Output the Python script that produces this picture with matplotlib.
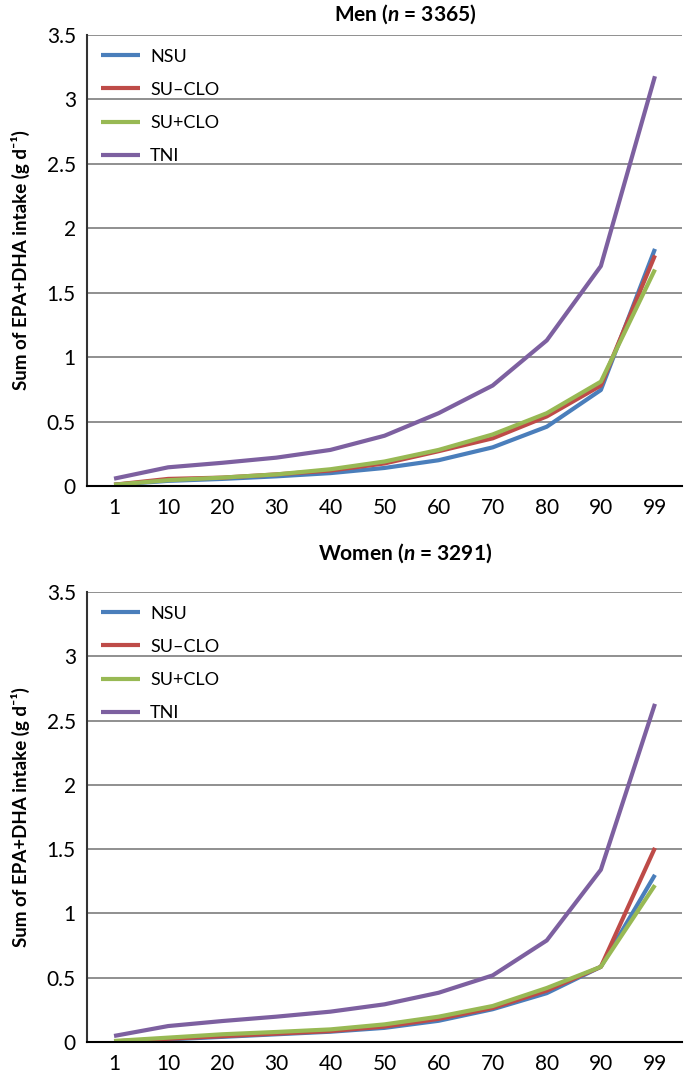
import numpy as np
import matplotlib
matplotlib.use("Agg")
from matplotlib import pyplot as plt

plt.rcParams["font.family"] = ["Lato", "DejaVu Sans"]
plt.rcParams["mathtext.fontset"] = "custom"
plt.rcParams["mathtext.it"] = "Lato:style=italic:weight=bold"
plt.rcParams["mathtext.rm"] = "Lato:weight=bold"

# Data
percentiles = ["1", "10", "20", "30", "40", "50", "60", "70", "80", "90", "99"]
series = ["NSU", "SU\u2013CLO", "SU+CLO", "TNI"]
colors = ["#4A7EBB", "#BE4B48", "#98B954", "#7D60A0"]

men_nsu = [0.01, 0.04, 0.055, 0.075, 0.10, 0.14, 0.20, 0.30, 0.46, 0.745, 1.84]
men_su_clo = [0.01, 0.055, 0.065, 0.09, 0.12, 0.175, 0.27, 0.37, 0.54, 0.78, 1.79]
men_su_p_clo = [0.01, 0.045, 0.065, 0.09, 0.13, 0.19, 0.28, 0.40, 0.565, 0.81, 1.68]
men_tni = [0.057, 0.145, 0.18, 0.22, 0.28, 0.39, 0.565, 0.78, 1.13, 1.707, 3.18]

women_nsu = [0.005, 0.02, 0.04, 0.06, 0.08, 0.11, 0.165, 0.255, 0.38, 0.585, 1.30]
women_su_clo = [0.005, 0.025, 0.045, 0.065, 0.085, 0.12, 0.18, 0.265, 0.40, 0.585, 1.51]
women_su_p_clo = [0.008, 0.034, 0.06, 0.078, 0.098, 0.137, 0.197, 0.28, 0.42, 0.585, 1.22]
women_tni = [0.047, 0.124, 0.163, 0.197, 0.236, 0.293, 0.383, 0.518, 0.79, 1.34, 2.63]

yticks = [0, 0.5, 1, 1.5, 2, 2.5, 3, 3.5]
ytick_labels = ["0", "0.5", "1", "1.5", "2", "2.5", "3", "3.5"]

panels = [
    (r"Men ($n$ = 3365)", [men_nsu, men_su_clo, men_su_p_clo, men_tni]),
    (r"Women ($n$ = 3291)", [women_nsu, women_su_clo, women_su_p_clo, women_tni]),
]

W, H = 686, 1076
fig = plt.figure(figsize=(W / 100, H / 100), dpi=100)

# pixel boxes: left, top, right, bottom
boxes = [(87, 35, 682, 486), (87, 592, 682, 1042)]
title_y = [14, 553]

x = np.arange(len(percentiles))
for (title, data), (l, t, r, b), ty in zip(panels, boxes, title_y):
    ax = fig.add_axes([l / W, 1 - b / H, (r - l) / W, (b - t) / H])
    for vals, name, c in zip(data, series, colors):
        ax.plot(x, vals, color=c, lw=3.0, label=name, solid_capstyle="butt")
    ax.set_xlim(-0.5, len(percentiles) - 0.5)
    ax.set_ylim(0, 3.5)
    ax.set_yticks(yticks)
    ax.set_yticklabels(ytick_labels)
    ax.set_xticks(x)
    ax.set_xticklabels(percentiles)
    ax.tick_params(axis="both", length=0, labelsize=15, colors="black")
    ax.tick_params(axis="x", pad=9)
    ax.tick_params(axis="y", pad=8)
    ax.grid(axis="y", color="#878787", lw=1.3)
    ax.set_axisbelow(True)
    for s in ["top", "right"]:
        ax.spines[s].set_visible(False)
    ax.spines["left"].set_color("#333333")
    ax.spines["left"].set_linewidth(1.5)
    ax.spines["bottom"].set_color("black")
    ax.spines["bottom"].set_linewidth(1.5)
    ax.set_ylabel("Sum of EPA+DHA intake (g d\u207b\u00b9)", fontsize=13.5,
                  fontweight="bold", labelpad=12)
    ax.legend(loc="upper left", bbox_to_anchor=(0.0, 1.0), frameon=False,
              fontsize=13, handlelength=2.2, handletextpad=0.55,
              labelspacing=0.95, borderaxespad=0.35)
    fig.text(405 / W, 1 - ty / H, title, ha="center", va="center",
             fontsize=15, fontweight="bold")

fig.savefig("out.png", dpi=100)
